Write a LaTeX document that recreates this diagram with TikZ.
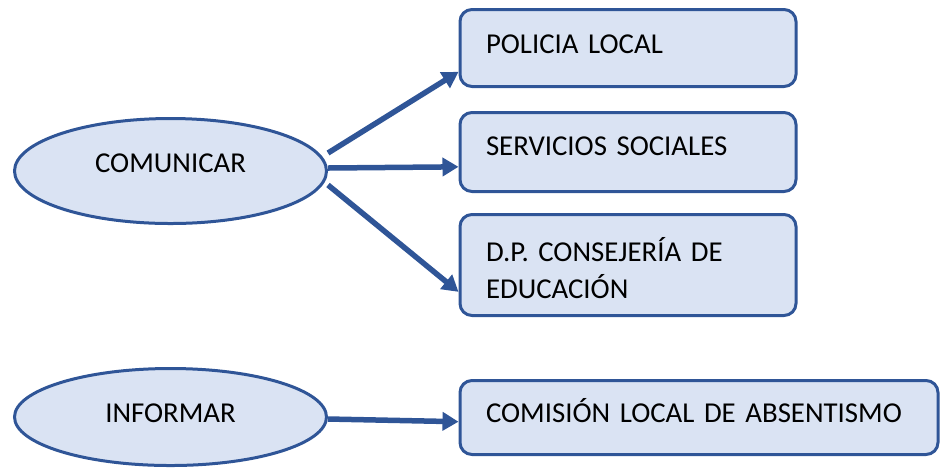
\documentclass[tikz,border=0pt]{standalone}
\usepackage{fontspec}
\setmainfont{Carlito}
\usepackage{tikz}
\usetikzlibrary{positioning,shapes.geometric,arrows.meta}
\definecolor{borde}{HTML}{2F5597}
\definecolor{relleno}{HTML}{DAE3F3}

\begin{document}
\begin{tikzpicture}[x=0.5pt,y=-0.5pt,
		accion/.style={ellipse,draw=borde,fill=relleno,line width=1.5pt,inner sep=0pt,minimum width=156pt,minimum height=52.5pt,text height=10pt,font=\fontsize{14.4}{18.5}\selectfont},
		destino/.style={rectangle,rounded corners=6pt,draw=borde,fill=relleno,line width=1.5pt,inner xsep=13pt,inner ysep=0pt,text width=142pt,align=left,text height=10pt,text depth=4.9pt,font=\fontsize{14.4}{18.5}\selectfont},
		flecha/.style={draw=borde,line width=2.75pt,-{Triangle[length=8pt,width=9pt]}}]
		\useasboundingbox (0,0) rectangle (941,468);

		\node[accion,text depth=8.9pt]						(comunicar)	at (170.5,171)	{COMUNICAR};
		\node[accion,text depth=4.4pt,minimum height=48.5pt]	(informar)	at (170.5,417)	{INFORMAR};
		\node[destino,text depth=6.9pt,minimum height=39.5pt]	(servicios)	at (628,152)	{SERVICIOS SOCIALES};
		\node[destino,minimum height=38.5pt,node distance=11.5pt,above=of servicios]	(policia)	{POLICIA LOCAL};
		\node[destino,text height=15pt,text depth=18.5pt,minimum height=50.5pt,node distance=10pt,below=of servicios]	(dp)	{D.P. CONSEJERÍA DE\\EDUCACIÓN};
		\node[destino,minimum height=37pt,text width=213pt,node distance=31pt and 0pt,below right=of dp.south west]	(comision)	{COMISIÓN LOCAL DE ABSENTISMO};

		\draw[flecha] ([yshift=9pt]comunicar.east) -- (policia.188);
		\draw[flecha] ([yshift=1.5pt]comunicar.east) -- (servicios.185);
		\draw[flecha] ([yshift=-7pt]comunicar.east) -- (dp.189);
		\draw[flecha] ([yshift=-1pt]informar.east) -- (comision.181);
	\end{tikzpicture}
\end{document}
